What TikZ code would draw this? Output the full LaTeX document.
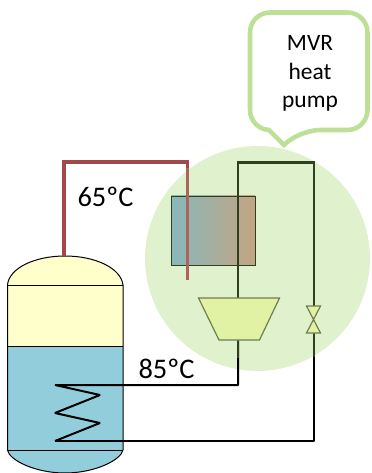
\documentclass[tikz,border=0pt]{standalone}
\usepackage{fontspec}
\setmainfont{Carlito}
\usetikzlibrary{calc}
\definecolor{halo}{HTML}{E0F1CE}
\definecolor{calloutc}{HTML}{BCE096}
\definecolor{cream}{HTML}{FFFFCC}
\definecolor{water}{HTML}{92CDDC}
\definecolor{pipered}{HTML}{A0484A}
\definecolor{dark}{HTML}{2F4020}
\definecolor{lime}{HTML}{E2F2A4}
\definecolor{hxl}{HTML}{88B8BC}
\definecolor{hxr}{HTML}{C4A482}
\tikzset{
  tankline/.style={draw=black,line width=0.75pt},
  pipe/.style={draw=black,line width=1.5pt,line join=bevel},
  hppipe/.style={draw=dark,line width=1.6pt},
  redpipe/.style={draw=pipered,line width=2.3pt},
  partoutline/.style={draw=dark!65!lime,line width=0.9pt,fill=lime},
  lab/.style={font=\fontsize{21.3}{24}\selectfont,text=black,inner sep=0pt},
  calltext/.style={font=\fontsize{17.6}{21.4}\selectfont,text=black,align=center,inner sep=0pt}
}
\begin{document}
\begin{tikzpicture}[x=0.75pt,y=-0.75pt]
\useasboundingbox (0,0) rectangle (371,473);
% tank
\fill[cream] (7.5,285) .. controls (9,268) and (35,256) .. (65,256) .. controls (95,256) and (121,268) .. (123,285) -- (123,346) -- (7.5,346) -- cycle;
\fill[water] (7.5,346) rectangle (123,450);
\fill[water] (7.5,450) .. controls (9,460) and (35,473) .. (65,473) .. controls (95,473) and (121,460) .. (123,450) -- cycle;
\draw[tankline] (7.5,450) -- (7.5,285) .. controls (9,268) and (35,256) .. (65,256) .. controls (95,256) and (121,268) .. (123,285) -- (123,450) .. controls (121,460) and (95,473) .. (65,473) .. controls (35,473) and (9,460) .. (7.5,450);
\draw[tankline] (7.5,285) -- (123,285);
\draw[tankline] (7.5,346.5) -- (123,346.5);
\draw[tankline] (7.5,450) -- (123,450);
% red pipe outside halo
\coordinate (tanktop) at (64,256);
\coordinate (redcorner) at (187.5,162);
\coordinate (redend) at (187.5,279.5);
\draw[redpipe] (tanktop) |- (redcorner) -- (redend);
% halo
\node[circle,fill=halo,minimum size=225*0.75pt,inner sep=0pt,draw=none] (haloc) at (257.5,258.5) {};
% heat exchanger
\node[draw=dark,line width=0.7pt,left color=hxl,right color=hxr,middle color=hxl!50!hxr,minimum width=84*0.75pt,minimum height=69*0.75pt,inner sep=0pt] (hx) at (213,230.5) {};
% red pipe within halo
\draw[draw=pipered!70!hxr,line width=2.3pt] (187.5,163) -- (redend);
\draw[redpipe] (64,256) -- (64,162) -- (187.5,162) -- (187.5,168);
% refrigerant circuit
\coordinate (comptop) at (238,298);
\coordinate (compbot) at (238,340);
\coordinate (hpnw) at (238,162.5);
\coordinate (hpne) at (314,162.5);
\coordinate (valvetop) at (314,306);
\coordinate (valvebot) at (314,333);
\coordinate (coila) at (55,385);
\coordinate (coilb) at (55,441);
\draw[hppipe] (comptop) -- (hpnw) -- (hpne) -- (valvetop);
\draw[pipe] (valvebot) -- (314,441) -- (coilb);
\draw[hppipe] (314,333) -- (314,357);
\draw[pipe] (coilb) -- (100,423) -- (55,413) -- (100,395) -- (coila) -- (238,385) -- (compbot);
\draw[hppipe] (compbot) -- (238,358);
% compressor and valve
\path[partoutline] (198.5,298) -- (279.5,298) -- (259.5,340) -- (219,340) -- cycle;
\path[partoutline] (306.5,306) -- (320.5,306) -- (306.5,333) -- (320.5,333) -- cycle;
% labels
\node[lab] (t65) at (105.5,197) {65ºC};
\node[lab] (t85) at (166.5,369) {85ºC};
% callout
\draw[calloutc,line width=3.4pt,fill=white,rounded corners=20*0.75pt] (250,12.5) -- (367.5,12.5) -- (367.5,130) -- (300,130) [sharp corners] -- (284,145) -- (269,130) [rounded corners=20*0.75pt] -- (250,130) -- cycle;
\node[calltext] (mvr) at (310,73.5) {MVR\\heat\\pump};
\end{tikzpicture}
\end{document}
